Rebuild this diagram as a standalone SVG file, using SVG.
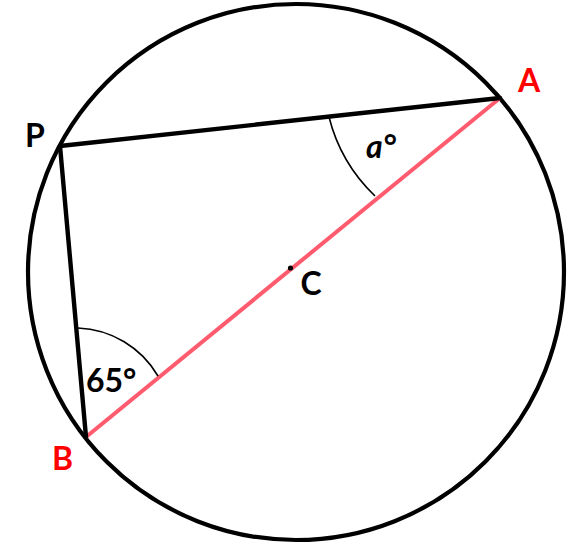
<svg xmlns="http://www.w3.org/2000/svg" width="569" height="545" viewBox="0 0 569 545">
<style>
.edge{stroke:#000;stroke-width:4.4;fill:none;stroke-linecap:round}
.dia{stroke:#FF5B6E;stroke-width:4;fill:none}
.arc{stroke:#000;stroke-width:1.6;fill:none}
.lbl{font-family:Lato,"Liberation Sans",sans-serif;font-weight:bold;font-size:32px;fill:#000}
.red{fill:#FF0000}
</style>
<rect width="569" height="545" fill="#fff"/>
<g id="circle">
<circle cx="296" cy="272" r="268" fill="none" stroke="#000" stroke-width="4.2"/>
</g>
<g id="connectors">
<line class="dia" x1="500" y1="98" x2="86" y2="437"/>
<line class="edge" x1="60" y1="146" x2="500" y2="98"/>
<line class="edge" x1="60" y1="146" x2="86" y2="437"/>
<path class="arc" d="M329,117 A165,165 0 0 0 375,196"/>
<path class="arc" d="M78,328 A97,97 0 0 1 158,376"/>
</g>
<g id="node-P"><text class="lbl" x="35" y="147" text-anchor="middle">P</text></g>
<g id="node-A"><text class="lbl red" x="529" y="92" text-anchor="middle">A</text></g>
<g id="node-B"><text class="lbl red" x="62.5" y="470" text-anchor="middle">B</text></g>
<g id="node-C">
<circle cx="290.5" cy="268" r="2.6" fill="#000"/>
<text class="lbl" x="311" y="295" text-anchor="middle">C</text>
</g>
<g id="angle-A"><text class="lbl" x="366" y="158" font-size="35" font-style="italic">a°</text></g>
<g id="angle-B"><text class="lbl" x="86" y="392">65°</text></g>
</svg>
